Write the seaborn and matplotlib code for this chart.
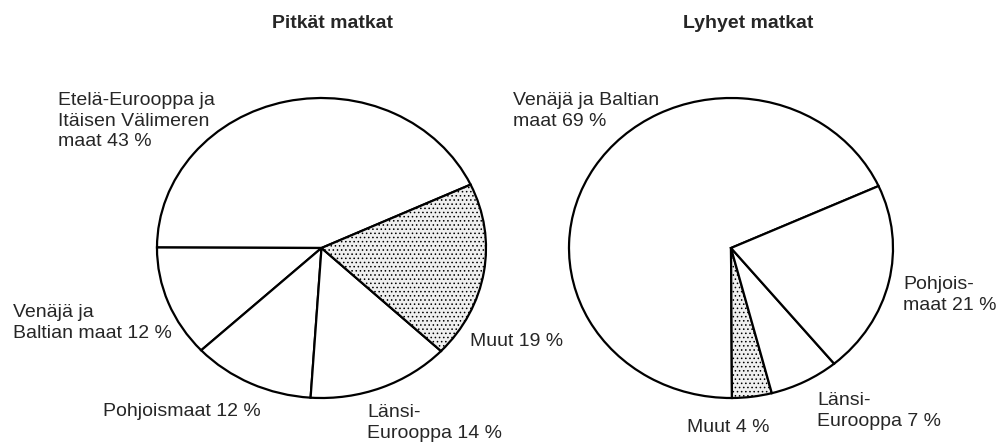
import matplotlib
matplotlib.use("Agg")
import matplotlib.pyplot as plt
import seaborn as sns

# ---- data ----
long_title = "Pitkät matkat"
long_labels = ["Etelä-Eurooppa ja\nItäisen Välimeren\nmaat 43 %",
               "Venäjä ja\nBaltian maat 12 %",
               "Pohjoismaat 12 %",
               "Länsi-\nEurooppa 14 %",
               "Muut 19 %"]
long_values = [43, 12, 12, 14, 19]
long_shaded = [False, False, False, False, True]

short_title = "Lyhyet matkat"
short_labels = ["Venäjä ja Baltian\nmaat 69 %",
                "Muut 4 %",
                "Länsi-\nEurooppa 7 %",
                "Pohjois-\nmaat 21 %"]
short_values = [69, 4, 7, 21]
short_shaded = [False, True, False, False]

# ---- style ----
sns.set_theme(style="white")
plt.rcParams["font.family"] = ["Liberation Sans", "DejaVu Sans"]
plt.rcParams["hatch.color"] = "#9a9a9a"
plt.rcParams["hatch.linewidth"] = 0.6

W, H = 1001, 446
fig = plt.figure(figsize=(W / 100, H / 100), dpi=100)
fig.patch.set_facecolor("white")


def px_axes(x0, y0, x1, y1):
    return fig.add_axes([x0 / W, 1 - y1 / H, (x1 - x0) / W, (y1 - y0) / H])


def draw_pie(ax, values, shaded, startangle):
    wedges, _ = ax.pie(values, startangle=startangle, counterclock=True,
                       colors=["white"] * len(values),
                       wedgeprops=dict(edgecolor="black", linewidth=1.6,
                                       clip_on=False))
    for w, s in zip(wedges, shaded):
        if s:
            w.set_facecolor("#efefef")
            w.set_hatch("....")
    ax.set_aspect("auto")
    ax.set_xlim(-1, 1)
    ax.set_ylim(-1, 1)
    ax.axis("off")


ax1 = px_axes(157, 98, 486, 398)
draw_pie(ax1, long_values, long_shaded, 25)
ax2 = px_axes(569, 98, 893, 398)
draw_pie(ax2, short_values, short_shaded, 24.4)

FS = 14


def ftext(x, y, s, **kw):
    fig.text(x / W, 1 - y / H, s, fontsize=FS, va="center",
             linespacing=1.28, **kw)


# titles
ftext(332, 23, long_title, ha="center", fontweight="bold")
ftext(748, 23, short_title, ha="center", fontweight="bold")

# long trip labels
long_pos = [(58, 121), (13, 323), (103, 412), (367, 423), (470, 341)]
for (x, y), lab in zip(long_pos, long_labels):
    ftext(x, y, lab, ha="left")

# short trip labels
short_pos = [(513, 111), (687, 427), (817, 411), (903, 295)]
for (x, y), lab in zip(short_pos, short_labels):
    ftext(x, y, lab, ha="left")

fig.savefig("out.png", dpi=100, facecolor="white")
